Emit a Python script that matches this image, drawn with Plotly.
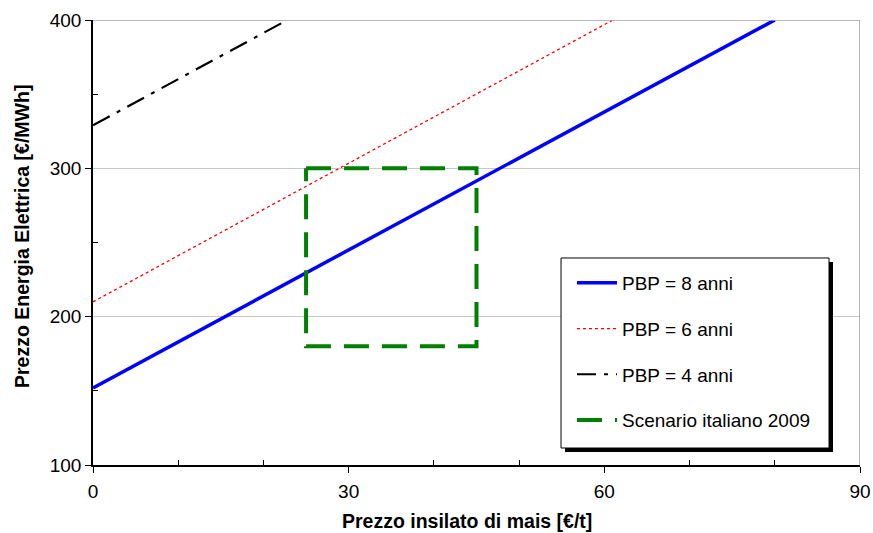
import plotly.graph_objects as go

# Data
pbp8_x = [0, 80]
pbp8_y = [152, 400]
pbp6_x = [0, 61]
pbp6_y = [210, 400]
pbp4_x = [0, 22.8]
pbp4_y = [329, 400]
scen_x = [25, 45, 45, 25, 25]
scen_y = [300, 300, 180, 180, 300]

x_ticks = [0, 30, 60, 90]
x_minor = [10, 20, 40, 50, 70, 80]
y_ticks = [100, 200, 300, 400]
y_minor = [150, 250, 350]

font_family = "Liberation Sans, Arial, sans-serif"

fig = go.Figure()
fig.add_trace(go.Scatter(x=pbp8_x, y=pbp8_y, mode="lines", name="PBP = 8 anni",
                         line=dict(color="#0000ff", width=3.5), legendgroup="a"))
fig.add_trace(go.Scatter(x=pbp6_x, y=pbp6_y, mode="lines", name="PBP = 6 anni",
                         line=dict(color="#ff0000", width=1.3, dash="dot"), legendgroup="b"))
fig.add_trace(go.Scatter(x=pbp4_x, y=pbp4_y, mode="lines", name="PBP = 4 anni",
                         line=dict(color="#000000", width=2.2, dash="19px,8px,4px,8px"), legendgroup="c"))
fig.add_trace(go.Scatter(x=scen_x, y=scen_y, mode="lines", name="Scenario italiano 2009",
                         line=dict(color="#008000", width=4, dash="25px,13px"), legendgroup="d"))

fig.update_layout(
    width=873, height=533,
    margin=dict(l=93, r=13, t=20, b=68),
    paper_bgcolor="white", plot_bgcolor="white",
    font=dict(family=font_family, size=19, color="black"),
    showlegend=True,
    legend=dict(x=0.6245, y=0.4517, xanchor="left", yanchor="top",
                bgcolor="rgba(0,0,0,0)", borderwidth=0,
                font=dict(size=19), tracegroupgap=18, itemwidth=40,
                traceorder="grouped"),
    xaxis=dict(range=[0, 90], tickvals=x_ticks, ticks="outside", ticklen=6,
               tickcolor="black", showline=True, linecolor="black", linewidth=1.5,
               showgrid=False, zeroline=False, automargin=False,
               ticklabelstandoff=2, tickfont=dict(size=19),
               minor=dict(tickvals=x_minor, ticks="inside", ticklen=5, tickcolor="black")),
    yaxis=dict(range=[100, 400], tickvals=y_ticks, ticks="outside", ticklen=6,
               tickcolor="black", showline=True, linecolor="black", linewidth=1.5,
               showgrid=True, gridcolor="#c8c8c8", gridwidth=1, zeroline=False,
               automargin=False, tickfont=dict(size=19),
               minor=dict(tickvals=y_minor, ticks="inside", ticklen=5, tickcolor="black")),
)

# axis titles
fig.add_annotation(text="<b>Prezzo insilato di mais [€/t]</b>", xref="paper", yref="paper",
                   x=0.4876, y=-0.1258, xanchor="center", yanchor="middle",
                   showarrow=False, font=dict(size=19.5))
fig.add_annotation(text="<b>Prezzo Energia Elettrica [€/MWh]</b>", xref="paper", yref="paper",
                   x=-0.0926, y=0.5146, xanchor="center", yanchor="middle", textangle=-90,
                   showarrow=False, font=dict(size=19.5))

# plot area border (top and right)
fig.add_shape(type="line", xref="x", yref="paper", x0=90, x1=90, y0=0, y1=1,
              line=dict(color="#a0a0a0", width=1.5))
fig.add_shape(type="line", xref="paper", yref="y", x0=0, x1=1, y0=400, y1=400,
              line=dict(color="#a0a0a0", width=1.5))

# legend frame with shadow
fig.add_shape(type="rect", xref="paper", yref="paper",
              x0=0.6154, x1=0.9648, y0=0.0292, y1=0.4562,
              fillcolor="black", line=dict(width=0), layer="above")
fig.add_shape(type="rect", xref="paper", yref="paper",
              x0=0.6102, x1=0.9596, y0=0.0382, y1=0.4652,
              fillcolor="white", line=dict(color="black", width=1), layer="above")

fig.write_html("out.html")
